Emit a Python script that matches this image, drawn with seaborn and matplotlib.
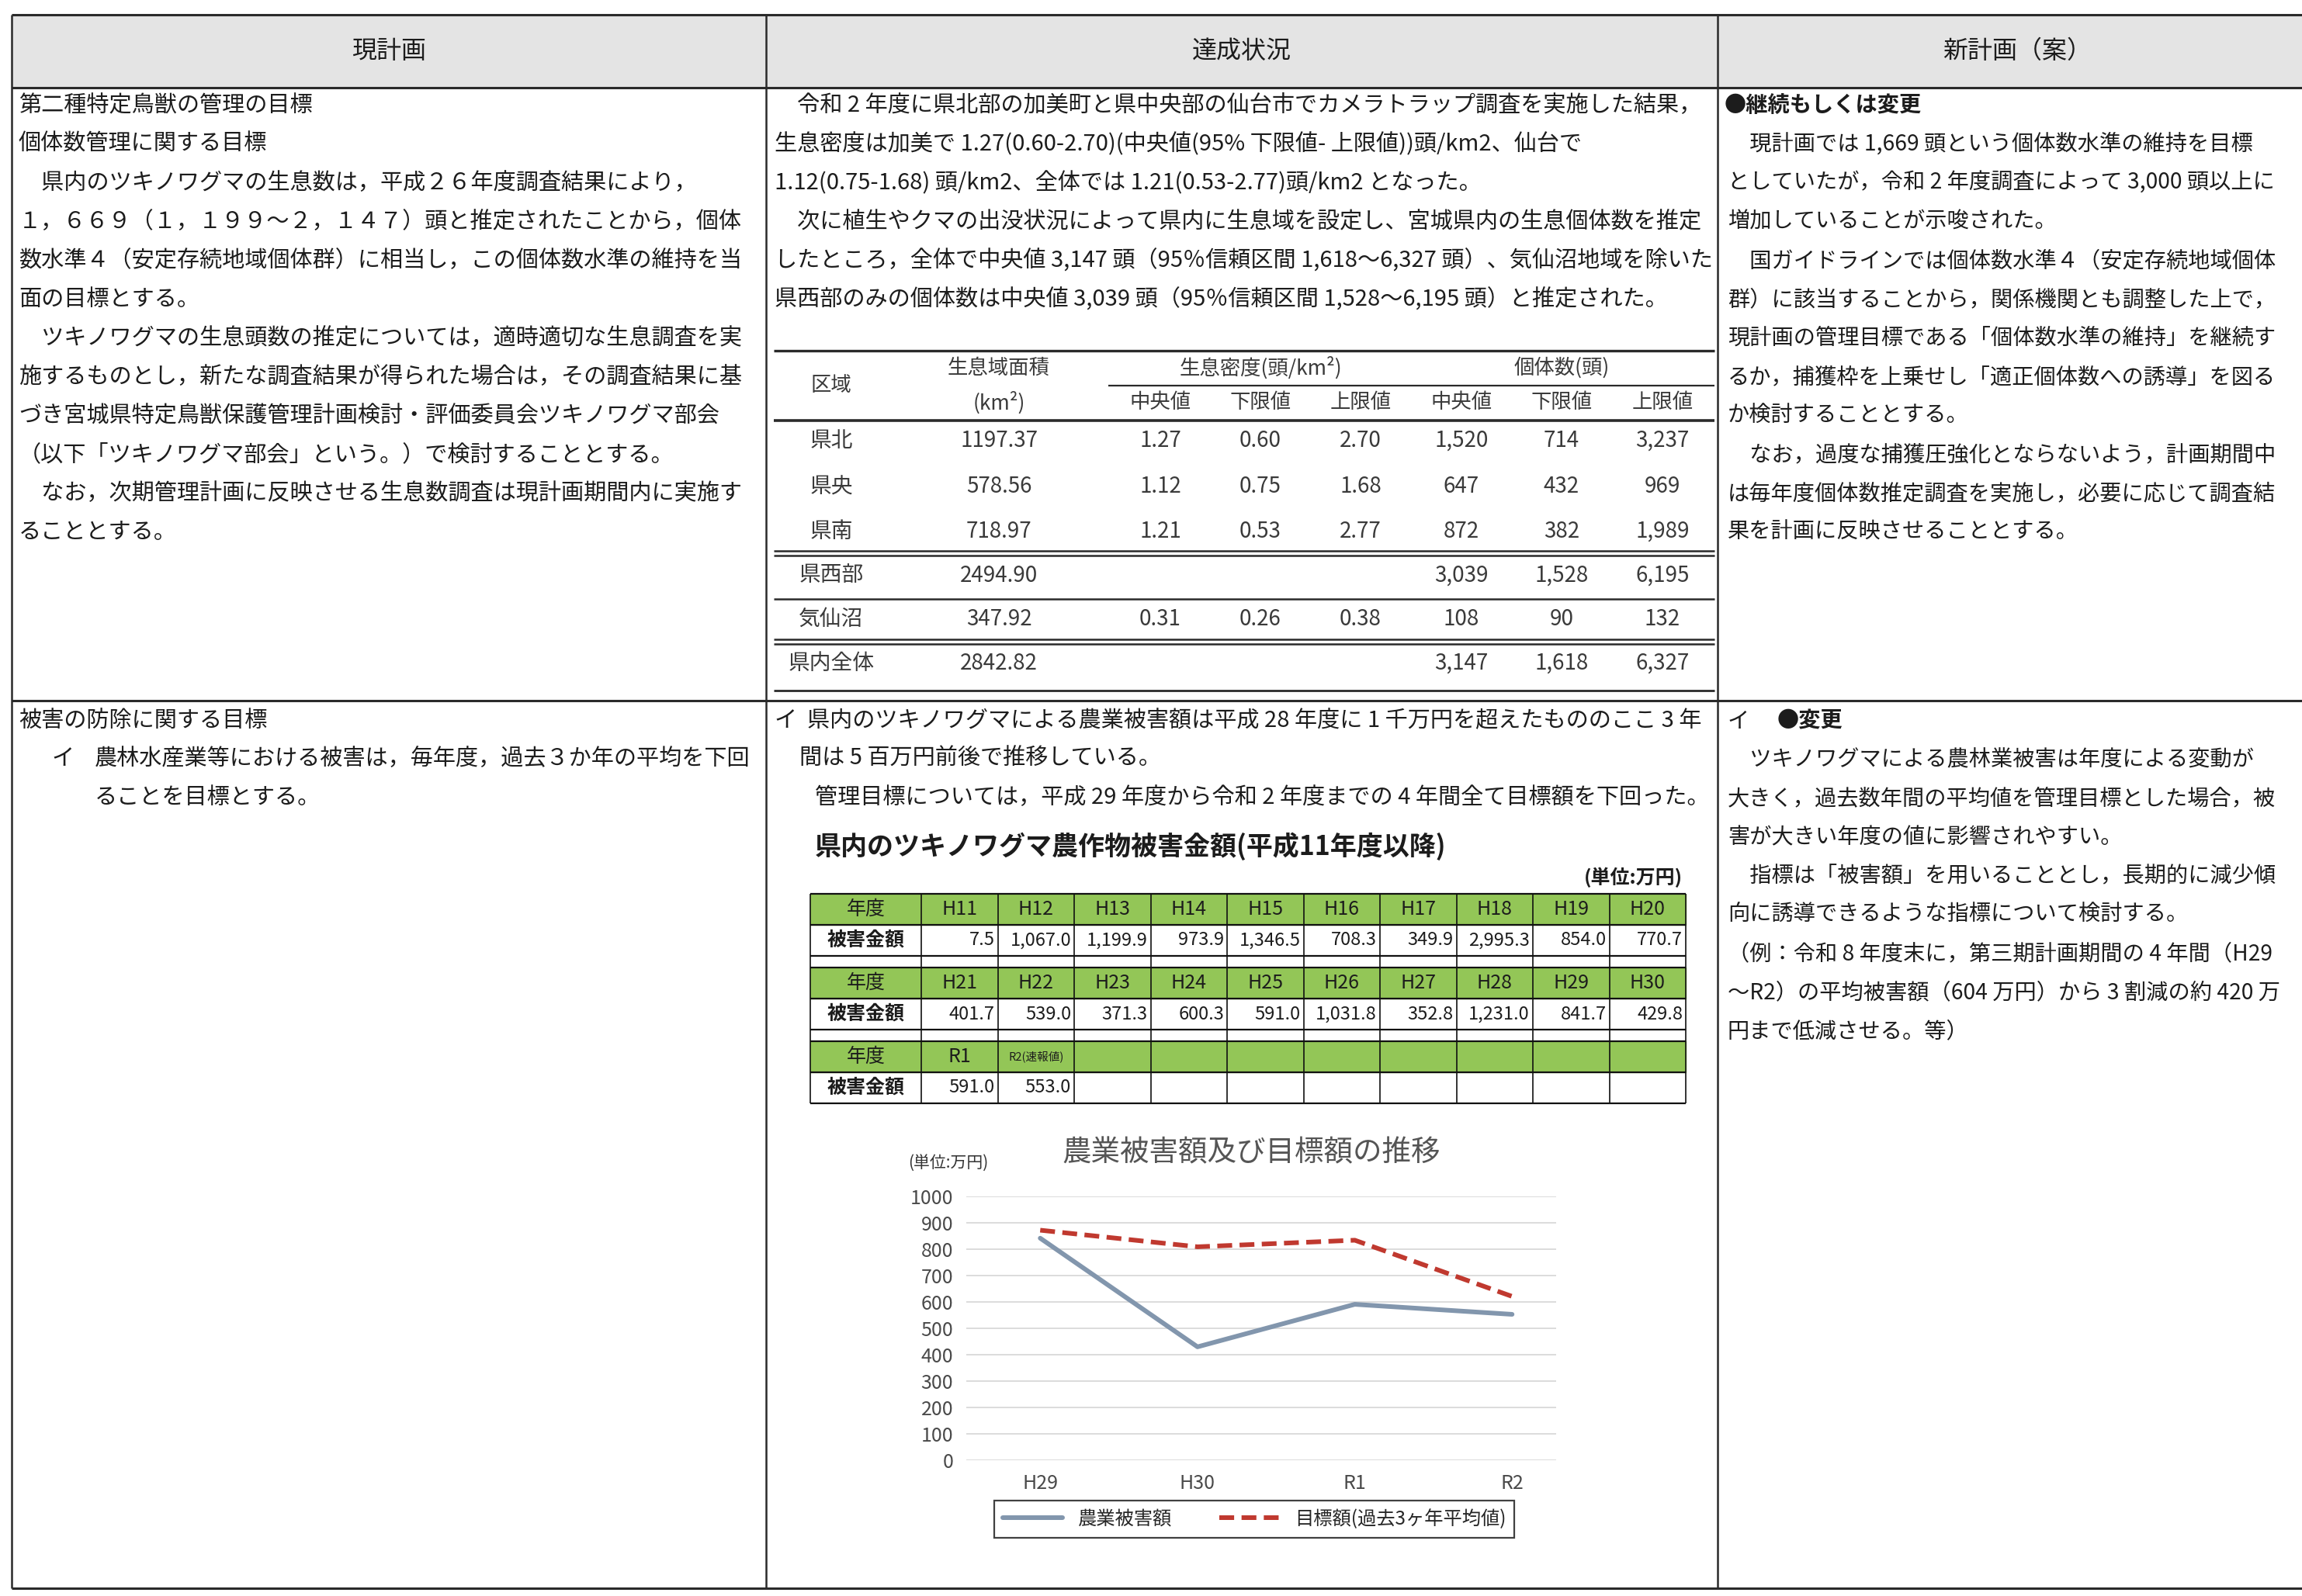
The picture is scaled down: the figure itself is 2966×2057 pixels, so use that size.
import pandas as pd
import seaborn as sns
import matplotlib.pyplot as plt
from matplotlib.patches import Rectangle

W, H = 2966, 2057

# 生息数推定の表
regions = ['県北', '県央', '県南', '県西部', '気仙沼', '県内全体']
area = [1197.37, 578.56, 718.97, 2494.90, 347.92, 2842.82]
dens_med = [1.27, 1.12, 1.21, None, 0.31, None]
dens_lo = [0.60, 0.75, 0.53, None, 0.26, None]
dens_hi = [2.70, 1.68, 2.77, None, 0.38, None]
pop_med = [1520, 647, 872, 3039, 108, 3147]
pop_lo = [714, 432, 382, 1528, 90, 1618]
pop_hi = [3237, 969, 1989, 6195, 132, 6327]

# 農作物被害金額（万円）
years = ['H11', 'H12', 'H13', 'H14', 'H15', 'H16', 'H17', 'H18', 'H19', 'H20',
         'H21', 'H22', 'H23', 'H24', 'H25', 'H26', 'H27', 'H28', 'H29', 'H30',
         'R1', 'R2']
damage = [7.5, 1067.0, 1199.9, 973.9, 1346.5, 708.3, 349.9, 2995.3, 854.0, 770.7,
          401.7, 539.0, 371.3, 600.3, 591.0, 1031.8, 352.8, 1231.0, 841.7, 429.8,
          591.0, 553.0]

# 推移グラフ
chart_years = ['H29', 'H30', 'R1', 'R2']
target = [872, 809, 834, 621]
s_damage = '農業被害額'
s_target = '目標額(過去3ヶ年平均値)'

sns.set_style('white')
plt.rcParams['font.family'] = ['Noto Sans CJK JP', 'DejaVu Sans']

fig = plt.figure(figsize=(W / 100, H / 100), dpi=100)
bg = fig.add_axes([0, 0, 1, 1])
bg.set_xlim(0, W)
bg.set_ylim(H, 0)
bg.axis('off')

INK = '#1c1c1c'
LINE = '#2a2a2a'
FS_L, FS_M, FS_R = 21, 21, 20.3


def put(x, y, s, size=FS_L, **kw):
    kw.setdefault('color', INK)
    kw.setdefault('ha', 'left')
    bg.text(x, y, s, fontsize=size, va='center', **kw)


def hline(y, x0, x1, lw=2.0, color=LINE):
    bg.plot([x0, x1], [y, y], color=color, lw=lw, solid_capstyle='butt')


def vline(x, y0, y1, lw=2.0, color=LINE):
    bg.plot([x, x], [y0, y1], color=color, lw=lw, solid_capstyle='butt')


# ---- 外枠 ----
L, C1, C2, R = 15, 987, 2213, W + 10
TOP, HDR, ROW2, BOT = 19, 113, 903, 2047
bg.add_patch(Rectangle((L, TOP), R - L, HDR - TOP, color='#e4e4e4', zorder=0))
for y in (TOP, HDR, ROW2, BOT):
    hline(y, L, R, lw=2.2)
for x in (L, C1, C2):
    vline(x, TOP, BOT, lw=1.8)
put((L + C1) / 2, 66, '現計画', size=23, ha='center')
put((C1 + C2) / 2, 66, '達成状況', size=23, ha='center')
put((C2 + W) / 2 + 10, 66, '新計画（案）', size=23, ha='center')

LS = 50  # 行送り

# ---- 左列 ----
left1 = [
    '第二種特定鳥獣の管理の目標',
    '個体数管理に関する目標',
    '　県内のツキノワグマの生息数は，平成２６年度調査結果により，',
    '１，６６９（１，１９９～２，１４７）頭と推定されたことから，個体',
    '数水準４（安定存続地域個体群）に相当し，この個体数水準の維持を当',
    '面の目標とする。',
    '　ツキノワグマの生息頭数の推定については，適時適切な生息調査を実',
    '施するものとし，新たな調査結果が得られた場合は，その調査結果に基',
    'づき宮城県特定鳥獣保護管理計画検討・評価委員会ツキノワグマ部会',
    '（以下「ツキノワグマ部会」という。）で検討することとする。',
    '　なお，次期管理計画に反映させる生息数調査は現計画期間内に実施す',
    'ることとする。',
]
for i, s in enumerate(left1):
    put(24, 136 + i * LS, s)

put(24, 929, '被害の防除に関する目標')
put(66, 978, 'イ')
put(122, 978, '農林水産業等における被害は，毎年度，過去３か年の平均を下回')
put(122, 1028, 'ることを目標とする。')

# ---- 中央列 上段 ----
mid1 = [
    '　令和 2 年度に県北部の加美町と県中央部の仙台市でカメラトラップ調査を実施した結果，',
    '生息密度は加美で 1.27(0.60-2.70)(中央値(95% 下限値- 上限値))頭/km2、仙台で',
    '1.12(0.75-1.68) 頭/km2、全体では 1.21(0.53-2.77)頭/km2 となった。',
    '　次に植生やクマの出没状況によって県内に生息域を設定し、宮城県内の生息個体数を推定',
    'したところ，全体で中央値 3,147 頭（95％信頼区間 1,618～6,327 頭）、気仙沼地域を除いた',
    '県西部のみの個体数は中央値 3,039 頭（95％信頼区間 1,528～6,195 頭）と推定された。',
]
for i, s in enumerate(mid1):
    put(998, 136 + i * LS, s, size=FS_M)

# 生息数推定の表
TX0, TX1 = 997, 2209
cx = [1071, 1287, 1495, 1624, 1753, 1883, 2012, 2142]
GRAY = '#3a3a3a'
hline(452, TX0, TX1, lw=2.4)
hline(497, 1428, TX1, lw=1.6)
hline(542, TX0, TX1, lw=2.6)
for y in (710, 716, 772, 824, 830):
    hline(y, TX0, TX1, lw=1.8)
hline(890, TX0, TX1, lw=2.0)
put(cx[0], 497, '区域', size=19, ha='center', color=GRAY)
put(cx[1], 474, '生息域面積', size=19, ha='center', color=GRAY)
put(cx[1], 519, '(km²)', size=19, ha='center', color=GRAY)
put(cx[3], 474, '生息密度(頭/km²)', size=19, ha='center', color=GRAY)
put(cx[6], 474, '個体数(頭)', size=19, ha='center', color=GRAY)
for x, s in zip(cx[2:], ['中央値', '下限値', '上限値'] * 2):
    put(x, 519, s, size=19, ha='center', color=GRAY)

row_y = [568, 627, 685, 742, 798, 855]
for i, y in enumerate(row_y):
    cells = [regions[i], f'{area[i]:.2f}']
    for v in (dens_med[i], dens_lo[i], dens_hi[i]):
        cells.append('' if v is None else f'{v:.2f}')
    for v in (pop_med[i], pop_lo[i], pop_hi[i]):
        cells.append(f'{v:,}')
    for x, s in zip(cx, cells):
        put(x, y, s, size=20, ha='center', color=GRAY)

# ---- 中央列 下段 ----
put(997, 929, 'イ', size=FS_M)
put(1040, 929, '県内のツキノワグマによる農業被害額は平成 28 年度に 1 千万円を超えたもののここ 3 年',
    size=FS_M)
put(1030, 978, '間は 5 百万円前後で推移している。', size=FS_M)
put(1050, 1028, '管理目標については，平成 29 年度から令和 2 年度までの 4 年間全て目標額を下回った。',
    size=FS_M)
put(1050, 1091, '県内のツキノワグマ農作物被害金額(平成11年度以降)', size=24.5, weight='bold')
put(2168, 1131, '(単位:万円)', size=18, ha='right', weight='bold')

# 被害金額の表（緑）
GREEN = '#93c657'
X0, FW, CW = 1044, 143, 98.5
col_x = [X0, X0 + FW] + [X0 + FW + CW * (k + 1) for k in range(10)]
RH, GAP = 40, 15
block_top = [1152, 1152 + 2 * RH + GAP, 1152 + 4 * RH + 2 * GAP]
for b, yt in enumerate(block_top):
    bg.add_patch(Rectangle((col_x[0], yt), col_x[-1] - col_x[0], RH,
                           color=GREEN, zorder=0))
    put((col_x[0] + col_x[1]) / 2, yt + RH / 2, '年度', size=18, ha='center')
    put((col_x[0] + col_x[1]) / 2, yt + 1.5 * RH, '被害金額', size=18,
        ha='center', weight='bold')
    for k in range(10):
        idx = b * 10 + k
        if idx >= len(years):
            continue
        xm = (col_x[k + 1] + col_x[k + 2]) / 2
        lab = years[idx]
        if lab == 'R2':
            put(xm, yt + RH / 2, 'R2(速報値)', size=10.5, ha='center')
        else:
            put(xm, yt + RH / 2, lab, size=18, ha='center')
        put(col_x[k + 2] - 4, yt + 1.5 * RH, f'{damage[idx]:,.1f}', size=17,
            ha='right')
    for y in (yt, yt + RH, yt + 2 * RH):
        hline(y, col_x[0], col_x[-1], lw=1.6, color='#111111')
    for x in col_x:
        vline(x, yt, yt + 2 * RH + (GAP if b < 2 else 0), lw=1.2, color='#111111')

# ---- 推移グラフ ----
ax = fig.add_axes([1245 / W, 1 - 1882 / H, 760 / W, 340 / H])
df = pd.DataFrame({
    '年度': chart_years * 2,
    '金額': damage[-4:] + target,
    '系列': [s_damage] * 4 + [s_target] * 4,
})
sns.lineplot(data=df, x='年度', y='金額', hue='系列', style='系列',
             palette={s_damage: '#8296ad', s_target: '#c0392f'},
             dashes={s_damage: '', s_target: (3.2, 1.6)},
             linewidth=4.3, sort=False, ax=ax)
leg = ax.get_legend()
handles = leg.legend_handles
labels = [t.get_text() for t in leg.get_texts()]
leg.remove()

ax.set_xlim(-0.47, 3.28)
ax.set_ylim(0, 1000)
ax.set_yticks(range(0, 1001, 100))
ax.grid(axis='y', color='#d9d9d9', lw=1.3)
ax.grid(axis='x', visible=False)
ax.set_xlabel('')
ax.set_ylabel('')
sns.despine(ax=ax, left=True, bottom=True)
ax.tick_params(axis='y', length=0, pad=12, labelsize=18, labelcolor='#4a4a4a')
ax.tick_params(axis='x', length=0, pad=12, labelsize=18, labelcolor='#4a4a4a')
ax.patch.set_alpha(0)

fig.text(1612 / W, 1 - 1486 / H, '農業被害額及び目標額の推移', fontsize=27,
         color='#555555', ha='center', va='center')
fig.text(1222 / W, 1 - 1499 / H, '(単位:万円)', fontsize=15, color='#333333',
         ha='center', va='center')

fl = fig.legend(handles, labels, loc='center', ncol=2,
                bbox_to_anchor=(1616 / W, 1 - 1958 / H), fontsize=17.5,
                frameon=True, fancybox=False, edgecolor='#111111',
                handlelength=3.2, columnspacing=2.5, borderpad=0.45)
fl.get_frame().set_linewidth(1.6)
for h in fl.legend_handles:
    h.set_linewidth(4.3)

# ---- 右列 ----
right1 = [
    '　現計画では 1,669 頭という個体数水準の維持を目標',
    'としていたが，令和 2 年度調査によって 3,000 頭以上に',
    '増加していることが示唆された。',
    '　国ガイドラインでは個体数水準４（安定存続地域個体',
    '群）に該当することから，関係機関とも調整した上で，',
    '現計画の管理目標である「個体数水準の維持」を継続す',
    'るか，捕獲枠を上乗せし「適正個体数への誘導」を図る',
    'か検討することとする。',
    '　なお，過度な捕獲圧強化とならないよう，計画期間中',
    'は毎年度個体数推定調査を実施し，必要に応じて調査結',
    '果を計画に反映させることとする。',
]
put(2222, 136, '●継続もしくは変更', size=FS_R, weight='bold')
for i, s in enumerate(right1):
    put(2226, 136 + (i + 1) * LS, s, size=FS_R)

right2 = [
    '　ツキノワグマによる農林業被害は年度による変動が',
    '大きく，過去数年間の平均値を管理目標とした場合，被',
    '害が大きい年度の値に影響されやすい。',
    '　指標は「被害額」を用いることとし，長期的に減少傾',
    '向に誘導できるような指標について検討する。',
    '（例：令和 8 年度末に，第三期計画期間の 4 年間（H29',
    '～R2）の平均被害額（604 万円）から 3 割減の約 420 万',
    '円まで低減させる。等）',
]
put(2226, 929, 'イ', size=FS_R)
put(2290, 929, '●変更', size=FS_R, weight='bold')
for i, s in enumerate(right2):
    put(2226, 929 + (i + 1) * LS, s, size=FS_R)

fig.savefig('out.png', dpi=100)
